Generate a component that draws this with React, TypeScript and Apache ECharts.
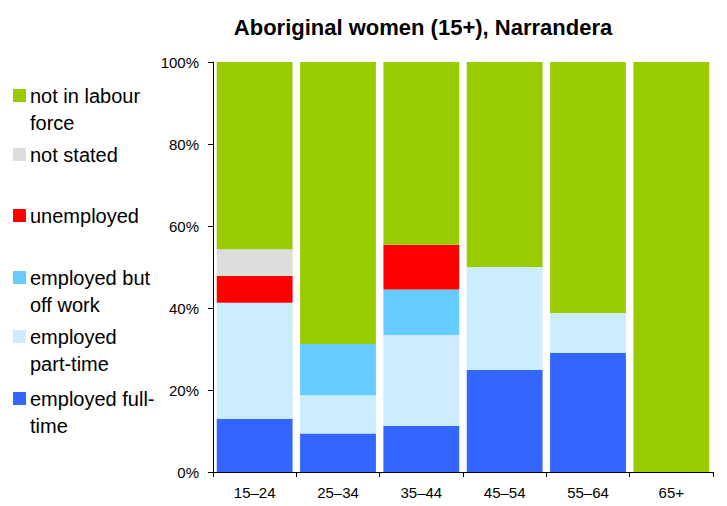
import React, { useEffect, useRef } from "react";
import * as echarts from "echarts";

const categories = ["15–24", "25–34", "35–44", "45–54", "55–64", "65+"];
const fullTime = [13.0, 9.4, 11.2, 24.9, 29.0, 0];
const partTime = [28.3, 9.3, 22.2, 25.1, 9.8, 0];
const offWork = [0, 12.5, 11.1, 0, 0, 0];
const unemployed = [6.5, 0, 10.9, 0, 0, 0];
const notStated = [6.5, 0, 0, 0, 0, 0];
const notInLF = [45.7, 68.8, 44.6, 50.0, 61.2, 100];
const yTicks = [0, 20, 40, 60, 80, 100];

const seriesDefs = [
  { name: "employed full-time", data: fullTime, color: "#3366FF", legend: ["employed full-", "time"], ly: 398 },
  { name: "employed part-time", data: partTime, color: "#CCECFF", legend: ["employed", "part-time"], ly: 336 },
  { name: "employed but off work", data: offWork, color: "#66CCFF", legend: ["employed but", "off work"], ly: 277 },
  { name: "unemployed", data: unemployed, color: "#FF0000", legend: ["unemployed"], ly: 215 },
  { name: "not stated", data: notStated, color: "#DDDDDD", legend: ["not stated"], ly: 154 },
  { name: "not in labour force", data: notInLF, color: "#99CC00", legend: ["not in labour", "force"], ly: 95 },
];

export default function App() {
  const ref = useRef<HTMLDivElement>(null);
  useEffect(() => {
    if (!ref.current) return;
    const chart = echarts.init(ref.current, undefined, { renderer: "svg" });
    const font = "Liberation Sans, Arial, sans-serif";
    const graphics: any[] = [];
    seriesDefs.forEach((s) => {
      graphics.push({
        type: "rect",
        left: 13,
        top: s.ly - 6,
        shape: { width: 13, height: 13 },
        style: { fill: s.color },
      });
      graphics.push({
        type: "text",
        left: 30,
        top: s.ly - 13,
        style: {
          text: s.legend.join("\n"),
          font: `20px ${font}`,
          fill: "#000",
          lineHeight: 27,
        },
      });
    });
    chart.setOption({
      animation: false,
      title: {
        text: "Aboriginal women (15+), Narrandera",
        left: 418,
        textAlign: "center",
        top: 11,
        textStyle: { fontFamily: font, fontSize: 22, fontWeight: "bold", color: "#000" },
      },
      grid: { left: 213, right: 14, top: 62, bottom: 34 },
      xAxis: {
        type: "category",
        data: categories,
        axisLine: { lineStyle: { color: "#000", width: 1 } },
        axisTick: { show: true, length: 5, lineStyle: { color: "#000" } },
        axisLabel: { fontFamily: font, fontSize: 15, color: "#000", margin: 13 },
      },
      yAxis: {
        type: "value",
        min: 0,
        max: 100,
        interval: 20,
        splitLine: { show: false },
        axisLine: { show: true, lineStyle: { color: "#000", width: 1 } },
        axisTick: { show: true, length: 5, lineStyle: { color: "#000" } },
        axisLabel: {
          fontFamily: font,
          fontSize: 15,
          color: "#000",
          margin: 14,
          formatter: (v: number) => (yTicks.includes(v) ? `${v}%` : ""),
        },
      },
      series: seriesDefs.map((s) => ({
        name: s.name,
        type: "bar",
        stack: "total",
        data: s.data.map((v) => (v === 0 ? "-" : v)),
        barCategoryGap: "9%",
        itemStyle: { color: s.color },
      })),
      graphic: graphics,
    });
    return () => chart.dispose();
  }, []);
  return (
    <div
      ref={ref}
      style={{ position: "fixed", left: 0, top: 0, width: 727, height: 506, background: "#fff" }}
    />
  );
}
